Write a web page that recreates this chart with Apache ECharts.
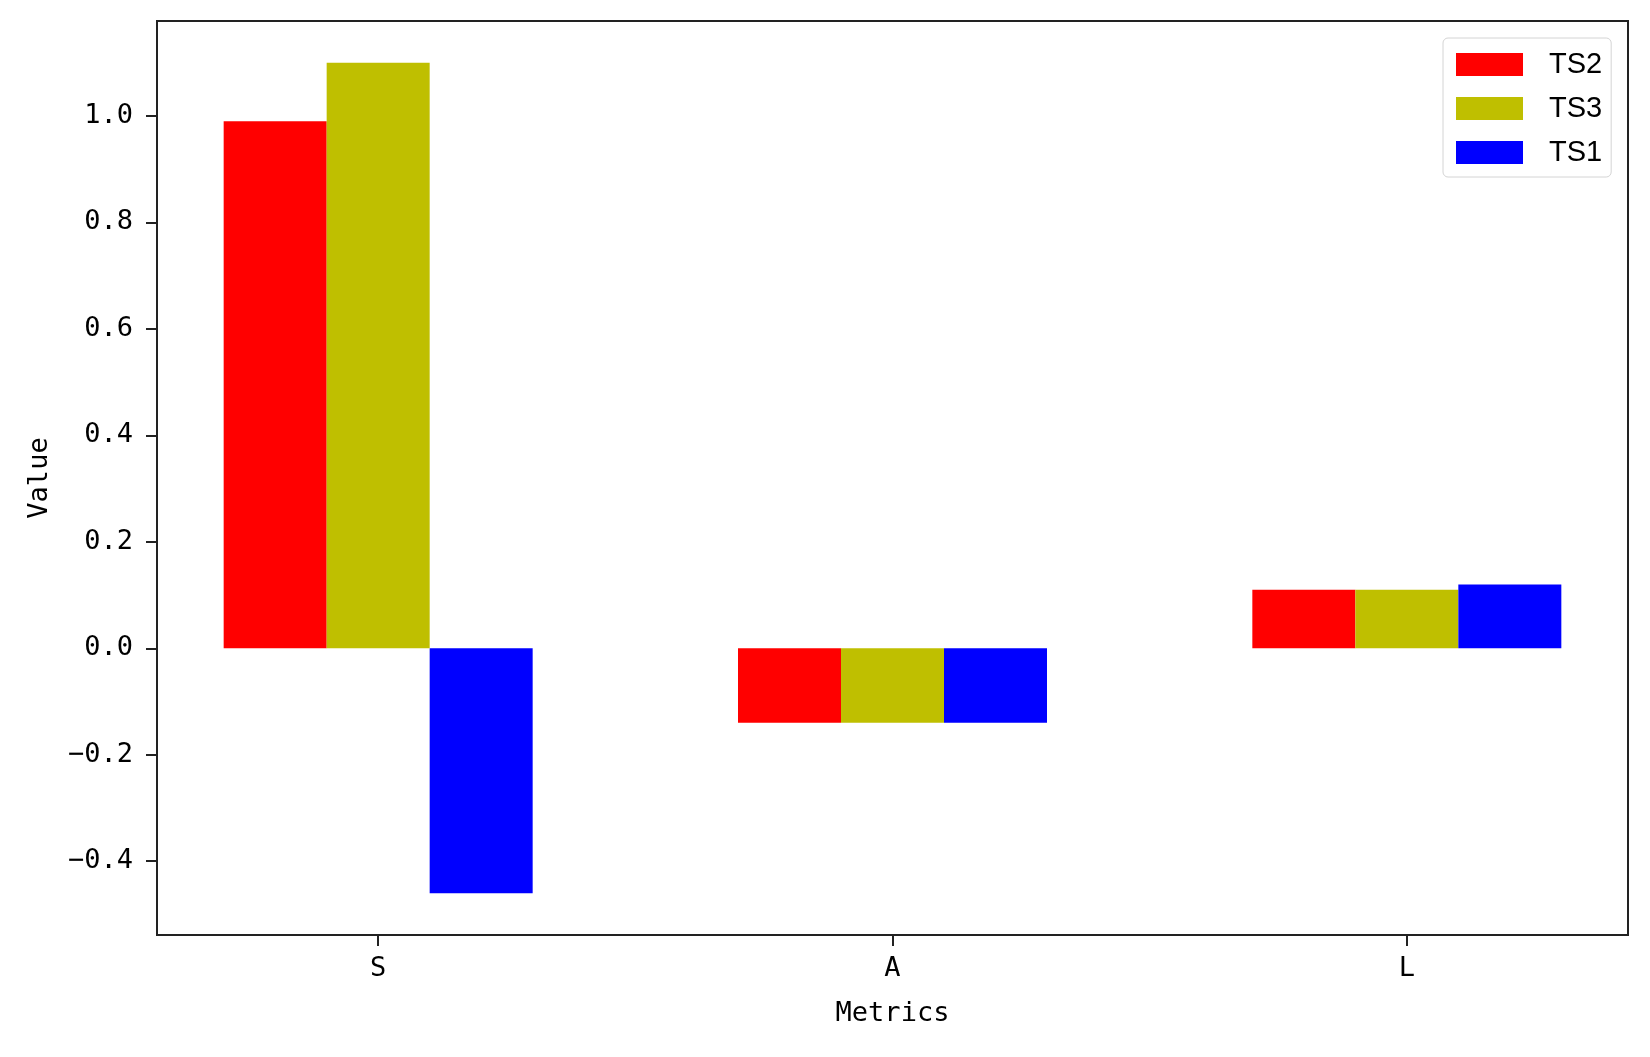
<!DOCTYPE html>
<html>
<head>
<meta charset="utf-8">
<script src="https://cdn.jsdelivr.net/npm/echarts@6/dist/echarts.min.js"></script>
<style>
    html, body { margin: 0; padding: 0; background: #fff; }
    #chart { width: 1650px; height: 1057px; }
</style>
</head>
<body>
<div id="chart"></div>
<script>
    // data
    var categories = ['S', 'A', 'L'];
    var ts2 = [0.99, -0.14, 0.11];
    var ts3 = [1.10, -0.14, 0.11];
    var ts1 = [-0.46, -0.14, 0.12];
    var yTicks = [-0.4, -0.2, 0.0, 0.2, 0.4, 0.6, 0.8, 1.0];
    var xTicks = [0, 1, 2];

    var mono = '"DejaVu Sans Mono", "Liberation Mono", monospace';
    var axisColor = '#222';

    function pairs(vals) {
        var out = [];
        for (var i = 0; i < vals.length; i++) {
            out.push([i, vals[i]]);
        }
        return out
    }

    function bar(name, color, vals) {
        return {
            name: name,
            type: 'bar',
            barWidth: 103,
            barGap: '0%',
            itemStyle: { color: color },
            data: pairs(vals)
        }
    }

    var chart = echarts.init(document.getElementById('chart'));
    chart.setOption({
        animation: false,
        backgroundColor: '#fff',
        grid: {
            left: 157, top: 21, right: 22, bottom: 122,
            show: true, borderColor: axisColor, borderWidth: 2
        },
        legend: {
            orient: 'vertical',
            left: 1443, top: 38,
            padding: [12, 9, 10, 13],
            itemWidth: 67, itemHeight: 23, itemGap: 15,
            icon: 'rect',
            backgroundColor: '#fff',
            borderColor: '#d4d4d4', borderWidth: 1, borderRadius: 5,
            textStyle: {
                fontFamily: '"Liberation Sans", Arial, sans-serif',
                fontSize: 29, color: '#000',
                lineHeight: 23,
                padding: [0, 0, 0, 21]
            },
            data: ['TS2', 'TS3', 'TS1']
        },
        xAxis: {
            type: 'value',
            min: -0.43, max: 2.43,
            name: 'Metrics',
            nameLocation: 'middle',
            nameGap: 65,
            nameTextStyle: { fontFamily: mono, fontSize: 27, color: '#000' },
            splitLine: { show: false },
            axisLine: { onZero: false, lineStyle: { color: axisColor, width: 2 } },
            axisTick: { customValues: xTicks, length: 11, lineStyle: { color: axisColor, width: 2 } },
            axisLabel: {
                customValues: xTicks,
                margin: 20,
                fontFamily: mono, fontSize: 27, color: '#000',
                formatter: function (v) { return categories[Math.round(v)]; }
            }
        },
        yAxis: {
            type: 'value',
            min: -0.5386, max: 1.1785,
            name: 'Value',
            nameLocation: 'middle',
            nameGap: 104,
            nameTextStyle: { fontFamily: mono, fontSize: 27, color: '#000' },
            splitLine: { show: false },
            axisLine: { show: true, onZero: false, lineStyle: { color: axisColor, width: 2 } },
            axisTick: { show: true, customValues: yTicks, length: 11, lineStyle: { color: axisColor, width: 2 } },
            axisLabel: {
                customValues: yTicks,
                margin: 24,
                fontFamily: mono, fontSize: 27, color: '#000',
                formatter: function (v) { return v.toFixed(1).replace('-', '\u2212'); }
            }
        },
        series: [
            bar('TS2', '#ff0000', ts2),
            bar('TS3', '#bfbf00', ts3),
            bar('TS1', '#0000ff', ts1)
        ]
    });
</script>
</body>
</html>
